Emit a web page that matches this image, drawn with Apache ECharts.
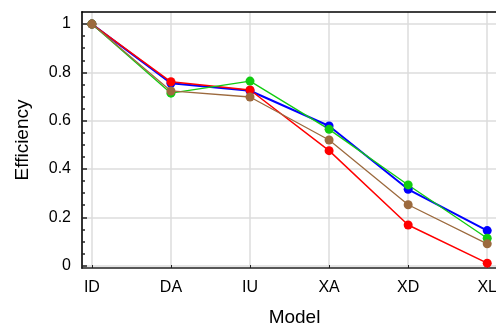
<!DOCTYPE html>
<html>
<head>
<meta charset="utf-8">
<style>
  html, body { margin: 0; padding: 0; background: #fff; }
  #chart { width: 496px; height: 324px; }
</style>
<script src="https://cdn.jsdelivr.net/npm/echarts@6/dist/echarts.min.js"></script>
</head>
<body>
<div id="chart"></div>
<script>
// Model categories along the x axis
const models = ['ID', 'DA', 'IU', 'XA', 'XD', 'XL'];

// Efficiency per model, one array per series
const blueValues  = [1.0, 0.755, 0.724, 0.578, 0.316, 0.145];
const redValues   = [1.0, 0.761, 0.727, 0.476, 0.168, 0.010];
const greenValues = [1.0, 0.714, 0.764, 0.564, 0.334, 0.113];
const brownValues = [1.0, 0.723, 0.698, 0.520, 0.252, 0.090];

// Y-axis tick values
const yMajorTicks = [0, 0.2, 0.4, 0.6, 0.8, 1];
const yMinorTicks = [0.05, 0.1, 0.15, 0.25, 0.3, 0.35, 0.45, 0.5, 0.55,
                     0.65, 0.7, 0.75, 0.85, 0.9, 0.95];

const FONT = '"Liberation Sans", Arial, Helvetica, sans-serif';
const modelIdx = models.map((_, i) => i);
const pairs = vals => vals.map((v, i) => [i, v]);

function lineSeries(name, color, width, vals) {
  return {
    name: name,
    type: 'line',
    data: pairs(vals),
    symbol: 'circle',
    symbolSize: 9,
    showSymbol: true,
    lineStyle: { color: color, width: width },
    itemStyle: { color: color },
    emphasis: { disabled: true },
    animation: false
  };
}

const chart = echarts.init(document.getElementById('chart'), null, { renderer: 'canvas' });

chart.setOption({
  animation: false,
  grid: { left: 82, top: 12, width: 425, height: 256, containLabel: false,
          outerBoundsMode: 'none' },
  xAxis: [
    {
      type: 'value',
      min: -0.125,
      max: 5.25,
      name: 'Model',
      nameLocation: 'middle',
      nameGap: 40,
      nameTextStyle: { fontFamily: FONT, fontSize: 19, color: '#000' },
      axisLine: { show: true, onZero: false, lineStyle: { color: '#222', width: 1.5 } },
      axisTick: { show: true, inside: true, length: 3, customValues: modelIdx,
                  lineStyle: { color: '#222', width: 1 } },
      axisLabel: { customValues: modelIdx, margin: 12, fontFamily: FONT, fontSize: 16,
                   color: '#000', formatter: v => models[Math.round(v)] },
      splitLine: { show: true, lineStyle: { color: '#dcdcdc', width: 1.5 } }
    },
    {
      // plain border line along the top of the plot
      type: 'value',
      position: 'top',
      min: -0.125,
      max: 5.25,
      axisLine: { show: true, onZero: false, lineStyle: { color: '#000', width: 1.5 } },
      axisTick: { show: false },
      axisLabel: { show: false },
      splitLine: { show: false }
    }
  ],
  yAxis: [
    {
      type: 'value',
      min: -0.01,
      max: 1.05,
      name: 'Efficiency',
      nameLocation: 'middle',
      nameGap: 50,
      nameTextStyle: { fontFamily: FONT, fontSize: 19, color: '#000' },
      axisLine: { show: true, onZero: false, lineStyle: { color: '#333', width: 2 } },
      axisTick: { show: true, inside: true, length: 5, customValues: yMajorTicks,
                  lineStyle: { color: '#222', width: 1.5 } },
      axisLabel: { customValues: yMajorTicks, margin: 11, fontFamily: FONT, fontSize: 16,
                   color: '#000', formatter: v => String(Math.round(v * 10) / 10) },
      splitLine: { show: true, lineStyle: { color: '#dcdcdc', width: 1.5 } }
    },
    {
      // short minor ticks every 0.05
      type: 'value',
      position: 'left',
      min: -0.01,
      max: 1.05,
      axisLine: { show: false, onZero: false },
      axisTick: { show: true, inside: true, length: 3, customValues: yMinorTicks,
                  lineStyle: { color: '#222', width: 1.5 } },
      axisLabel: { show: false },
      splitLine: { show: false }
    }
  ],
  series: [
    lineSeries('blue', '#0000ff', 2, blueValues),
    lineSeries('red', '#ff0000', 1.5, redValues),
    lineSeries('green', '#11cc11', 1.3, greenValues),
    lineSeries('brown', '#9c6a3e', 1.3, brownValues)
  ]
});
</script>
</body>
</html>
